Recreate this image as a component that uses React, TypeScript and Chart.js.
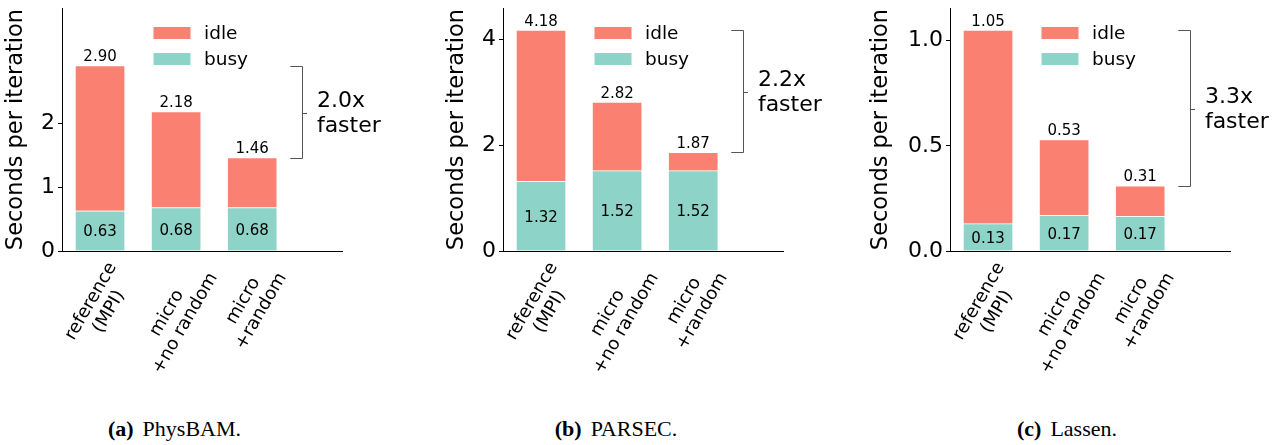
import React, { useEffect, useRef } from 'react';
import { Chart, registerables } from 'chart.js';

Chart.register(...registerables);

// ---------- data ----------
const categories = [
  ['reference', '(MPI)'],
  ['micro', '+no random'],
  ['micro', '+random'],
];
const seriesNames = ['idle', 'busy'];

const physbamBusy = [0.63, 0.68, 0.68];
const physbamIdle = [2.27, 1.5, 0.78];
const parsecBusy = [1.32, 1.52, 1.52];
const parsecIdle = [2.86, 1.3, 0.35];
const lassenBusy = [0.13, 0.17, 0.165];
const lassenIdle = [0.92, 0.36, 0.145];

const physbamTicks = [0, 1, 2];
const parsecTicks = [0, 2, 4];
const lassenTicks = [0, 0.5, 1.0];

const speedupLabels = ['2.0x', '2.2x', '3.3x'];
const speedupWord = 'faster';
const captionLetters = ['(a)', '(b)', '(c)'];
const captionNames = ['PhysBAM.', 'PARSEC.', 'Lassen.'];
const yTitle = 'Seconds per iteration';

// ---------- styles / layout ----------
const FONT = "'DejaVu Sans', sans-serif";
const IDLE_COLOR = '#FA8072';
const BUSY_COLOR = '#8DD3C7';
const CANVAS_H = 410;
const AREA_TOP = 8;
const AREA_BOTTOM = 251;
const AREA_W = 280;
const X_MIN = -0.5;
const X_MAX = 3.18;

const panels = [
  { busy: physbamBusy, idle: physbamIdle, ticks: physbamTicks, decimals: 0, ymax: 3.8, left: 0, width: 430, areaLeft: 62, titlePad: 2.3, capX: 174.5 },
  { busy: parsecBusy, idle: parsecIdle, ticks: parsecTicks, decimals: 0, ymax: 4.6, left: 430, width: 430, areaLeft: 73, titlePad: 13.8, capX: 616 },
  { busy: lassenBusy, idle: lassenIdle, ticks: lassenTicks, decimals: 1, ymax: 1.155, left: 860, width: 422, areaLeft: 90, titlePad: 8.1, capX: 1067 },
];

function makePlugin(p: any, idx: number) {
  return {
    id: 'annot' + idx,
    afterDatasetsDraw(chart: any) {
      const { ctx, chartArea, scales } = chart;
      const x = scales.x;
      const y = scales.y;
      ctx.save();
      ctx.fillStyle = '#000';

      // value labels
      ctx.font = `15px ${FONT}`;
      ctx.textAlign = 'center';
      ctx.textBaseline = 'alphabetic';
      p.busy.forEach((b: number, i: number) => {
        const total = b + p.idle[i];
        const cx = x.getPixelForValue(i);
        ctx.fillText(total.toFixed(2), cx, y.getPixelForValue(total) - 4.5);
        ctx.fillText(b.toFixed(2), cx, y.getPixelForValue(b / 2) + 5.5);
      });

      // legend
      const lx = chartArea.left + 91.5;
      const colors = [IDLE_COLOR, BUSY_COLOR];
      ctx.font = `18.5px ${FONT}`;
      ctx.textAlign = 'left';
      ctx.textBaseline = 'middle';
      seriesNames.forEach((name, k) => {
        const ty = 27 + k * 26;
        ctx.fillStyle = colors[k];
        ctx.fillRect(lx, ty, 37, 12);
        ctx.fillStyle = '#000';
        ctx.fillText(name, chartArea.left + 142, ty + 7.5);
      });

      // bracket
      const t0 = p.busy[0] + p.idle[0];
      const t2 = p.busy[2] + p.idle[2];
      const xv = Math.round(x.getPixelForValue(2.65)) + 0.5;
      const xl = x.getPixelForValue(2.5);
      const xr = x.getPixelForValue(2.72);
      const yt = Math.round(y.getPixelForValue(t0)) + 0.5;
      const yb = Math.round(y.getPixelForValue(t2)) + 0.5;
      const ym = Math.round((yt + yb) / 2) + 0.5;
      ctx.strokeStyle = '#555';
      ctx.lineWidth = 1;
      ctx.beginPath();
      ctx.moveTo(xl, yt);
      ctx.lineTo(xv, yt);
      ctx.lineTo(xv, yb);
      ctx.lineTo(xl, yb);
      ctx.moveTo(xv, ym);
      ctx.lineTo(xr, ym);
      ctx.stroke();
      ctx.font = `22px ${FONT}`;
      ctx.textAlign = 'left';
      ctx.textBaseline = 'alphabetic';
      const tx = x.getPixelForValue(2.85);
      ctx.fillText(speedupLabels[idx], tx, ym - 6.5);
      ctx.fillText(speedupWord, tx, ym + 18.5);

      // rotated category labels
      const XFS = 18;
      const L = XFS * 1.15;
      ctx.font = `${XFS}px ${FONT}`;
      categories.forEach((lines, i) => {
        const widths = lines.map((s) => ctx.measureText(s).width);
        const W = Math.max(...widths);
        const H = lines.length * L;
        const cx = x.getPixelForValue(i);
        const cy = chartArea.bottom + 8 + 0.433 * W + 0.25 * H;
        ctx.save();
        ctx.translate(cx, cy);
        ctx.rotate(-Math.PI / 3);
        ctx.textAlign = 'center';
        ctx.textBaseline = 'middle';
        lines.forEach((s, k) => ctx.fillText(s, 0, -H / 2 + L * (k + 0.5)));
        ctx.restore();
      });
      ctx.restore();
    },
  };
}

function Panel({ p, idx }: { p: any; idx: number }) {
  const ref = useRef<HTMLCanvasElement | null>(null);
  useEffect(() => {
    if (!ref.current) return;
    const chart = new Chart(ref.current, {
      type: 'bar',
      data: {
        datasets: [
          {
            label: seriesNames[1],
            data: p.busy.map((v: number, i: number) => ({ x: i, y: v })),
            backgroundColor: BUSY_COLOR,
            borderColor: 'rgba(255,255,255,0.75)',
            borderWidth: 1,
            barThickness: 50,
          },
          {
            label: seriesNames[0],
            data: p.idle.map((v: number, i: number) => ({ x: i, y: v })),
            backgroundColor: IDLE_COLOR,
            borderColor: 'rgba(255,255,255,0.75)',
            borderWidth: 1,
            barThickness: 50,
          },
        ],
      },
      options: {
        responsive: false,
        animation: false,
        events: [],
        layout: { padding: { left: 0, top: AREA_TOP, right: p.width - p.areaLeft - AREA_W, bottom: 0 } },
        plugins: { legend: { display: false }, tooltip: { enabled: false } },
        scales: {
          x: {
            type: 'linear',
            min: X_MIN,
            max: X_MAX,
            stacked: true,
            offset: false,
            ticks: { display: false },
            grid: { display: false },
            border: { display: true, color: '#000', width: 1 },
            afterFit: (s: any) => {
              s.height = CANVAS_H - AREA_BOTTOM;
              s.paddingLeft = 0;
              s.paddingRight = 0;
            },
          },
          y: {
            min: 0,
            max: p.ymax,
            stacked: true,
            afterBuildTicks: (s: any) => {
              s.ticks = p.ticks.map((v: number) => ({ value: v }));
            },
            afterFit: (s: any) => {
              s.width = p.areaLeft;
              s.paddingTop = 0;
              s.paddingBottom = 0;
              s.paddingLeft = 0;
              s.paddingRight = 0;
            },
            ticks: {
              font: { size: 22, family: FONT },
              color: '#000',
              padding: 3,
              callback: (v: any) => Number(v).toFixed(p.decimals),
            },
            grid: { display: true, drawOnChartArea: false, drawTicks: true, tickLength: 4, color: '#000' },
            border: { display: true, color: '#000', width: 1 },
            title: {
              display: true,
              text: yTitle,
              font: { size: 22.5, family: FONT },
              color: '#000',
              padding: { top: p.titlePad, bottom: 0 },
            },
          },
        },
      },
      plugins: [makePlugin(p, idx)],
    } as any);
    return () => chart.destroy();
  }, []);
  return (
    <canvas
      ref={ref}
      width={p.width}
      height={CANVAS_H}
      style={{ position: 'absolute', left: p.left, top: 0, width: p.width, height: CANVAS_H }}
    />
  );
}

export default function App() {
  return (
    <div style={{ position: 'absolute', left: 0, top: 0, width: 1282, height: 445, background: '#fff', overflow: 'hidden' }}>
      {panels.map((p, i) => (
        <Panel key={i} p={p} idx={i} />
      ))}
      {panels.map((p, i) => (
        <div
          key={'c' + i}
          style={{
            position: 'absolute',
            left: p.capX,
            top: 418,
            transform: 'translateX(-50%)',
            fontFamily: "'Liberation Serif', serif",
            fontSize: 22,
            lineHeight: '22px',
            whiteSpace: 'nowrap',
            color: '#000',
          }}
        >
          <b>{captionLetters[i]}</b>
          <span style={{ marginLeft: 9 }}>{captionNames[i]}</span>
        </div>
      ))}
    </div>
  );
}
